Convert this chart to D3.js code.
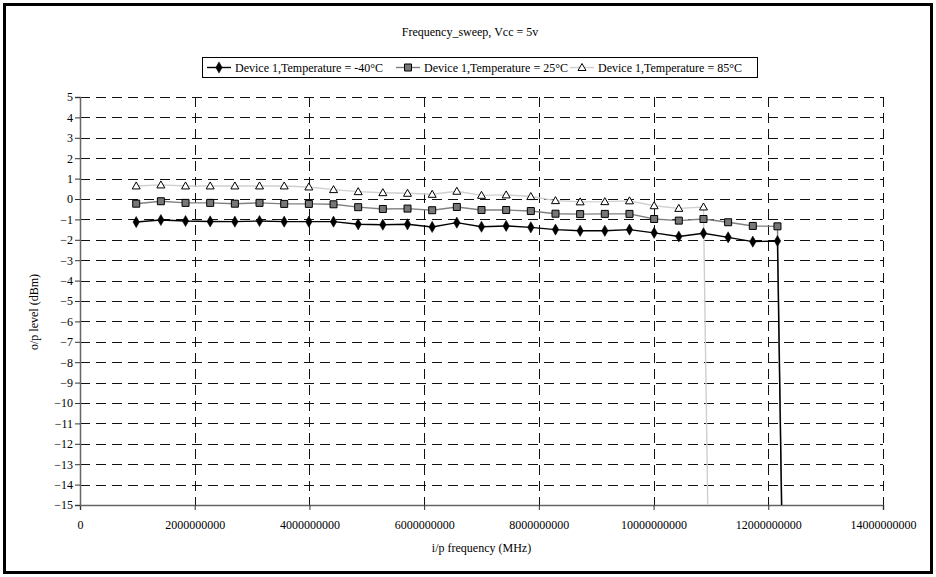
<!DOCTYPE html>
<html>
<head>
<meta charset="utf-8">
<script src="https://cdn.jsdelivr.net/npm/d3@7"></script>
<style>
  body { margin: 0; background: #fff; }
  svg text { font-family: "Liberation Serif", "Times New Roman", serif; fill: #000; }
</style>
</head>
<body>
<div id="chart"></div>
<script>
// frequency points (Hz)
const freqs = [0.98e9, 1.41e9, 1.84e9, 2.27e9, 2.70e9, 3.13e9, 3.56e9, 3.99e9, 4.42e9, 4.85e9,
  5.28e9, 5.71e9, 6.14e9, 6.57e9, 7.00e9, 7.43e9, 7.86e9, 8.29e9, 8.72e9, 9.15e9,
  9.58e9, 10.01e9, 10.44e9, 10.87e9, 11.30e9, 11.73e9, 12.16e9, 12.59e9]

// o/p level (dBm) per temperature, last point drops far below the axis
const levelMinus40 = [-1.13, -1.03, -1.08, -1.10, -1.11, -1.08, -1.11, -1.11, -1.11, -1.24,
  -1.26, -1.24, -1.37, -1.16, -1.36, -1.32, -1.39, -1.50, -1.56, -1.56,
  -1.50, -1.66, -1.84, -1.68, -1.88, -2.09, -2.06, -80]
const level25 = [-0.23, -0.11, -0.19, -0.19, -0.23, -0.19, -0.24, -0.24, -0.26, -0.40,
  -0.49, -0.47, -0.55, -0.39, -0.54, -0.54, -0.59, -0.72, -0.74, -0.73,
  -0.73, -0.98, -1.06, -0.98, -1.14, -1.32, -1.34, -80]
const level85 = [0.64, 0.69, 0.64, 0.64, 0.64, 0.64, 0.64, 0.59, 0.46, 0.36,
  0.31, 0.28, 0.23, 0.38, 0.18, 0.20, 0.12, -0.08, -0.14, -0.13,
  -0.09, -0.33, -0.46, -0.39, -85]

const seriesNames = ['Device 1,Temperature = -40°C', 'Device 1,Temperature = 25°C', 'Device 1,Temperature = 85°C']
const xTicks = [0, 2e9, 4e9, 6e9, 8e9, 10e9, 12e9, 14e9]
const yTicks = d3.range(-15, 6)

const width = 936, height = 577

const svg = d3.select('#chart').append('svg')
    .attr('width', width)
    .attr('height', height)

// outer frame
svg.append('rect')
    .attr('x', 4.5).attr('y', 4.5)
    .attr('width', 927).attr('height', 568)
    .attr('fill', '#fff')
    .attr('stroke', '#000')
    .attr('stroke-width', 3)

const x = d3.scaleLinear().domain([0, 14e9]).range([80, 883])
const y = d3.scaleLinear().domain([-15, 5]).range([505, 97])

// gridlines
svg.append('g')
    .selectAll('line')
    .data(yTicks.filter(d => d > -15))
    .join('line')
    .attr('x1', x(0)).attr('x2', x(14e9))
    .attr('y1', d => Math.round(y(d)) + 0.5).attr('y2', d => Math.round(y(d)) + 0.5)
    .attr('stroke', '#111')
    .attr('stroke-dasharray', '10,6')

svg.append('g')
    .selectAll('line')
    .data(xTicks.filter(d => d > 0))
    .join('line')
    .attr('x1', d => Math.round(x(d)) + 0.5).attr('x2', d => Math.round(x(d)) + 0.5)
    .attr('y1', y(5)).attr('y2', y(-15))
    .attr('stroke', '#111')
    .attr('stroke-dasharray', '10,6')

// axes
const xAxis = svg.append('g')
    .attr('transform', `translate(0,${y(-15)})`)
    .call(d3.axisBottom(x).tickValues(xTicks).tickFormat(d3.format('d')).tickSize(5).tickPadding(10))
xAxis.select('.domain').attr('stroke', '#666').attr('stroke-width', 1.5)
xAxis.selectAll('.tick line').attr('stroke', '#333')
xAxis.selectAll('text').attr('font-size', 12).attr('font-family', '"Liberation Serif", serif')

const yAxis = svg.append('g')
    .attr('transform', `translate(${x(0)},0)`)
    .call(d3.axisLeft(y).tickValues(yTicks).tickFormat(d3.format('d')).tickSize(5).tickPadding(2))
yAxis.select('.domain').attr('stroke', '#666').attr('stroke-width', 1.5)
yAxis.selectAll('.tick line').attr('stroke', '#333')
yAxis.selectAll('text').attr('font-size', 12).attr('font-family', '"Liberation Serif", serif')

// titles
svg.append('text')
    .attr('x', 470).attr('y', 36)
    .attr('text-anchor', 'middle')
    .attr('font-size', 12)
    .text('Frequency_sweep, Vcc = 5v')

svg.append('text')
    .attr('x', (x(0) + x(14e9)) / 2).attr('y', 552)
    .attr('text-anchor', 'middle')
    .attr('font-size', 12)
    .text('i/p frequency (MHz)')

svg.append('text')
    .attr('transform', 'translate(38,312) rotate(-90)')
    .attr('text-anchor', 'middle')
    .attr('font-size', 12)
    .text('o/p level (dBm)')

// data
svg.append('clipPath').attr('id', 'plotClip')
    .append('rect')
    .attr('x', x(0)).attr('y', y(5) - 10)
    .attr('width', x(14e9) - x(0) + 10).attr('height', y(-15) - y(5) + 10)

const series = [
    { values: levelMinus40, line: '#000', marker: 'diamond' },
    { values: level25, line: '#808080', marker: 'square' },
    { values: level85, line: '#cfcfcf', marker: 'triangle' }
]

const markerPath = {
    diamond: d3.symbol().type(d3.symbolDiamond).size(36)(),
    square: 'M-3.5,-3.5H3.5V3.5H-3.5Z',
    triangle: 'M0,-4L4,3H-4Z'
}
const markerFill = { diamond: '#000', square: '#777', triangle: '#fff' }

const line = d3.line().x(d => x(d[0])).y(d => y(d[1]))
const plot = svg.append('g').attr('clip-path', 'url(#plotClip)')

// draw light series first so darker lines sit on top
series.slice().reverse().forEach(s => {
    const pts = s.values.map((v, i) => [freqs[i], v])
    plot.append('path')
        .datum(pts)
        .attr('d', line)
        .attr('fill', 'none')
        .attr('stroke', s.line)
        .attr('stroke-width', 1.4)
    plot.selectAll(null)
        .data(pts.filter(p => p[1] >= -15))
        .join('path')
        .attr('d', markerPath[s.marker])
        .attr('transform', p => `translate(${x(p[0])},${y(p[1])})`)
        .attr('fill', markerFill[s.marker])
        .attr('stroke', '#000')
        .attr('stroke-width', s.marker === 'diamond' ? 0.5 : 1)
})

// legend
const legend = svg.append('g')
legend.append('rect')
    .attr('x', 202.5).attr('y', 57.5)
    .attr('width', 555).attr('height', 20)
    .attr('fill', '#fff')
    .attr('stroke', '#000')

const legendX = [207, 396, 570]
series.forEach((s, i) => {
    const g = legend.append('g').attr('transform', `translate(${legendX[i]},67.5)`)
    g.append('line')
        .attr('x1', 0).attr('x2', 24)
        .attr('stroke', s.line)
        .attr('stroke-width', 1.4)
    g.append('path')
        .attr('d', markerPath[s.marker])
        .attr('transform', 'translate(12,0)')
        .attr('fill', markerFill[s.marker])
        .attr('stroke', '#000')
        .attr('stroke-width', s.marker === 'diamond' ? 0.5 : 1)
    g.append('text')
        .attr('x', 28).attr('y', 4)
        .attr('font-size', 12)
        .text(seriesNames[i])
})
</script>
</body>
</html>
